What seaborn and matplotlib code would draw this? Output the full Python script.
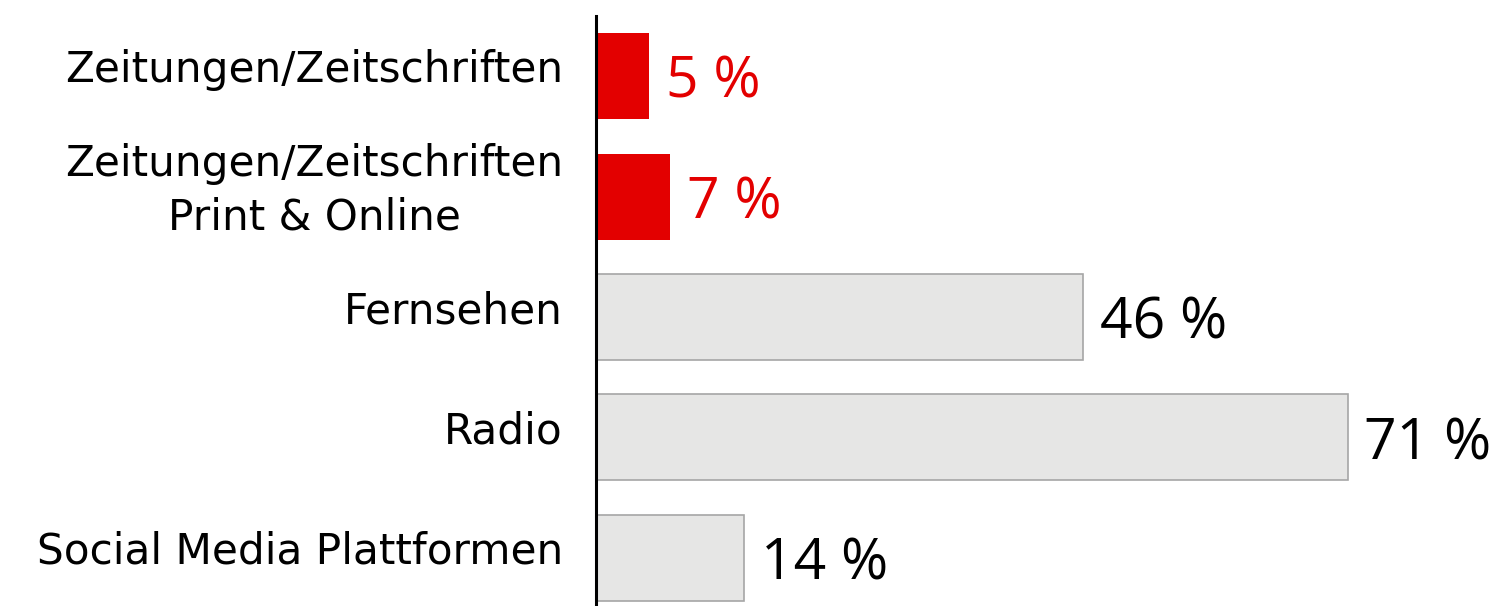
import matplotlib
matplotlib.use("Agg")
import matplotlib.pyplot as plt
import matplotlib.transforms as mtransforms
import seaborn as sns
import pandas as pd

categories = ["Zeitungen/Zeitschriften", "Zeitungen/Zeitschriften\nPrint & Online",
              "Fernsehen", "Radio", "Social Media Plattformen"]
values = [5, 7, 46, 71, 14]
value_labels = ["5 %", "7 %", "46 %", "71 %", "14 %"]
highlight = [True, True, False, False, False]

RED = "#E30000"
GRAY = "#E6E6E5"
EDGE = "#A6A6A6"

sns.set_theme(style="white")
plt.rcParams['font.family'] = ['DejaVu Sans']

fig = plt.figure(figsize=(15.01, 6.06), dpi=100)
ax = fig.add_axes([596/1501, 0, 1 - 596/1501, 1 - 16/606])

df = pd.DataFrame({"cat": categories, "val": values})
colors = [RED if h else GRAY for h in highlight]
sns.barplot(data=df, x="val", y="cat", hue="cat", palette=colors, legend=False,
            width=0.715, ax=ax, saturation=1)

for patch, h in zip(ax.patches, highlight):
    if h:
        patch.set_edgecolor(RED)
        patch.set_linewidth(0)
    else:
        patch.set_edgecolor(EDGE)
        patch.set_linewidth(1.2)

for i, (v, lab, h) in enumerate(zip(values, value_labels, highlight)):
    ax.text(v + 1.6, i + 0.06, lab, va="center", ha="left",
            fontsize=41, color=RED if h else "black", family=["Open Sans"])

ax.set_xlim(0, 85.5)
ax.set_ylim(4.4, -0.5)
ax.set_xlabel("")
ax.set_ylabel("")
ax.set_xticks([])
ax.set_yticklabels([])
ax.tick_params(axis="y", length=0)

# category labels drawn as text, shifted slightly up like the reference
trans = mtransforms.blended_transform_factory(ax.transAxes, ax.transData)
shift = mtransforms.ScaledTranslation(-33/100, 6/100, fig.dpi_scale_trans)
for i, cat in enumerate(categories):
    ax.text(0, i, cat, transform=trans + shift, ha="right", va="center",
            multialignment="center", fontsize=30.3, color="black",
            linespacing=1.33)

for s in ["top", "right", "bottom"]:
    ax.spines[s].set_visible(False)
ax.spines["left"].set_color("black")
ax.spines["left"].set_linewidth(2.2)

fig.savefig("out.png", dpi=100)
